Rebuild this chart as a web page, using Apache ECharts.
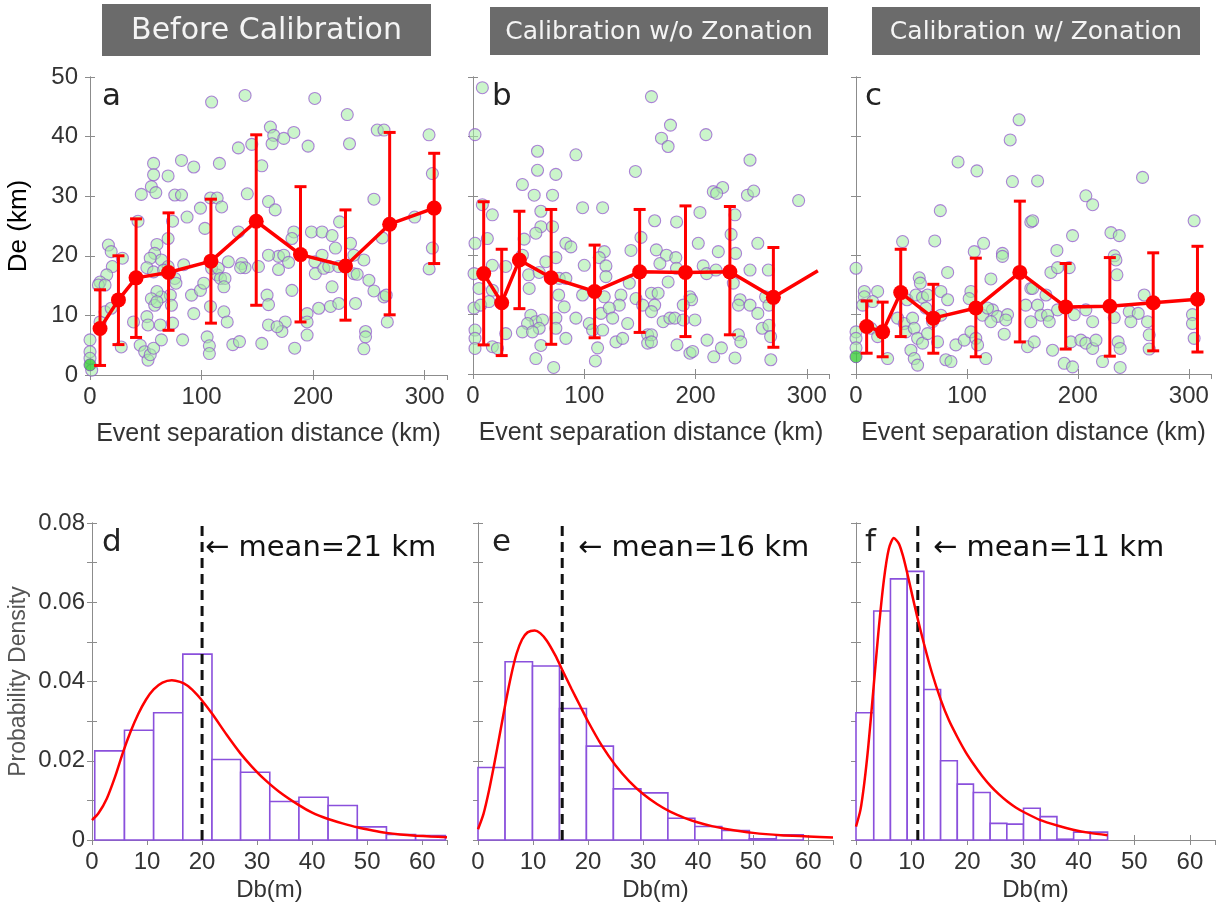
<!DOCTYPE html>
<html><head><meta charset="utf-8">
<script src="https://cdn.jsdelivr.net/npm/echarts@6/dist/echarts.min.js"></script>
<style>html,body{margin:0;padding:0;background:#fff}#c{width:1225px;height:907px}</style>
</head><body><div id="c"></div><script>
// ---------------- DATA ----------------
const panelTitles = ['Before Calibration', 'Calibration w/o Zonation', 'Calibration w/ Zonation'];
const panelLetters = ['a', 'b', 'c', 'd', 'e', 'f'];
const meanLabels = ['mean=21 km', 'mean=16 km', 'mean=11 km'];
const topXTicks = [0, 100, 200, 300];
const topYTicks = [0, 10, 20, 30, 40, 50];
const botXTicks = [0, 10, 20, 30, 40, 50, 60];
const botYTicks = [0, 0.02, 0.04, 0.06, 0.08];

// Panel a scatter (separation distance km, De km)
const scatterA = [[109,45.8],[139,46.9],[133,38.1],[145,38.7],[57,35.5],[57,33.6],[70,33.4],[93,34.9],[116,35.5],[82,36],[55,31.6],[59,30.6],[46,30.3],[76,30.2],[82,30.2],[108,29.7],[114,29.7],[118,28.2],[99,28],[141,30.4],[87,26.5],[103,24.6],[133,24],[74,25.8],[43,25.8],[70,22.9],[16.5,21.8],[19,20.7],[29,19.6],[60,21.9],[58,20.4],[64,19.3],[54,19.6],[51,18],[57,17.3],[70,18.2],[84,18.5],[66,17.6],[20,18.2],[15,16.8],[9,15.6],[7.5,15.1],[13.5,15.1],[76,16.2],[77,15.4],[72,13.4],[64,13.1],[60,14],[55,12.8],[58,11.7],[60,12.3],[73,11.7],[91,13.4],[99,14.2],[102,15.4],[114,16.8],[109,17.9],[115,17.9],[117,16.2],[121,16.2],[120,14.8],[124,19],[136,18.7],[139,18],[135,18],[151,18.2],[93,10.3],[108,11.5],[120,10.6],[123,8.9],[39,8.9],[51,9.8],[52,8.4],[63,8.4],[74,8.7],[13.5,10.6],[19,11.2],[9,8.9],[0,5.9],[0,3.9],[0,2.8],[1.5,0.8],[28,4.7],[45,5],[49,3.9],[52,2.5],[54,3.4],[57,4.5],[64,5.9],[83,5.9],[105,6.4],[107,4.9],[107,3.6],[128,5.1],[134,5.6],[154,5.3],
[201.5,46.4],[230.6,43.7],[161.7,41.6],[164.7,40.2],[163.2,38.8],[173.7,39.7],[182.7,40.7],[195.5,38.4],[232.6,38.8],[257.5,41.1],[263.5,41.1],[303.9,40.3],[306.9,33.8],[154,35.1],[160,29.1],[166,27.7],[254.5,29.5],[291,26.5],[223.7,25.7],[182.7,24],[181,22.9],[198.5,24],[208,24],[217,23.4],[220,21.3],[233.5,22.1],[245.5,19.3],[236.5,20.1],[262,23],[306.9,21.3],[304,17.8],[169,19.9],[173.7,20.1],[178,18.9],[169,17.7],[160,20.1],[201.5,19],[208,20.1],[202,17],[209.6,17.9],[214,18.2],[223,18.2],[236.5,17],[239.5,16.9],[250,15.9],[254.5,14.1],[263.5,13.1],[265.5,13.4],[181,14.2],[158.7,13.4],[160,11.8],[194.6,10.3],[205,11.2],[215.6,11.5],[223,12],[217,14.8],[238,12],[194.6,8.9],[194.6,6.7],[175,8.9],[172,7.3],[160,8.4],[167.7,8.1],[183.5,4.5],[266.5,8.9],[247,7.3],[247,6.4],[245.5,4.4]];
const scatterAHi = [[0,1.7]];
const binXA = [9,25.5,41.3,70.4,108.4,149,188.7,229,268.6,308.5];
const binMeanA = [7.8,12.6,16.3,17.2,19.1,25.8,20.2,18.3,25.3,28];
const binLowA = [1.6,5.1,6.3,7.5,8.7,11.7,8.9,9.2,10.1,18.7];
const binHighA = [14.3,20,26.2,27.2,29.5,40.3,31.6,27.7,40.7,37.2];

// Panel b scatter
const scatterB = [[8.4,48.2],[1.8,40.3],[58,37.5],[92.5,36.9],[58,34.3],[74.5,33.6],[44.4,31.9],[146,34.1],[55,30.1],[71.5,30.1],[98.5,28],[116.5,28],[8.4,28.5],[17.4,26.8],[61,27.4],[61,24.8],[71.5,24.8],[56.5,23.7],[12.9,22.8],[46,22.7],[1.8,22],[83.5,22],[88,21.4],[118,20.6],[142,20.8],[151,23],[113.5,19.6],[74.5,19.6],[44.4,20],[100,18.3],[119.5,18.2],[17.4,18.3],[0.9,16.9],[29.4,18.1],[50,16.7],[59.5,17.1],[50.5,14.4],[77.5,16.1],[83.5,16.1],[119.5,16.4],[140.5,15.3],[5.4,14.4],[17.4,14.1],[77,13.3],[98.5,13.3],[118,13],[133,13.3],[131.5,11.6],[146.5,12.7],[152.5,11.6],[0.9,11.1],[6.9,11.6],[14.4,12.2],[82,11.3],[92.5,9.4],[52,9.9],[56.5,8.8],[49,8.5],[62.5,9.1],[59.5,7.7],[44.4,7.1],[53.5,7.1],[74.5,9.4],[74.5,7.7],[104.5,8.5],[107.5,7.4],[115,10.2],[122.5,11.1],[125.5,9.4],[139,8.5],[116.5,7.4],[83.5,6],[128.5,5.4],[134.5,6],[157,6.6],[157,5.2],[1.8,7.4],[1.8,6],[1.8,4.3],[17.4,4.6],[22,4.3],[29.4,6.8],[61,4.8],[56.5,2.6],[72.5,1.1],[110,2.2],[112,4.4],[65.5,18.9],
[160.4,46.7],[177.5,41.9],[169.4,39.7],[175.4,38.3],[209.4,40.3],[249,36],[216,30.7],[224.4,31.4],[219,30.4],[246.7,30.1],[252.3,30.8],[292.7,29.2],[204,27.2],[163.3,25.8],[183,25.6],[235.5,26.8],[232,23.5],[202.5,22],[220.5,20.6],[236,20.3],[256,22],[164.8,20.9],[173.9,20],[168,18.6],[182.3,19.6],[182.9,17.8],[206.9,18.2],[210,16.9],[218.4,17.5],[249,17.5],[265.5,17.5],[234,15.3],[160.4,13.6],[166.4,13.6],[163.3,11.6],[160.4,10.5],[175.4,15.5],[195,13],[196.5,12.5],[189,11.6],[240.1,12.5],[238.6,11.6],[249,11.6],[256,10.2],[263,13],[266,11.6],[170.9,8.8],[177,9.4],[181.4,9.4],[189,9.1],[199.5,9.1],[160.4,6.6],[160.4,5.4],[260,7.7],[266,8.2],[267.5,6.3],[238.6,6.6],[240.7,5.4],[183.4,4.9],[195,3.5],[197.4,3.8],[210.4,5.7],[216.4,2.9],[223.3,4.4],[235.5,2.7],[267.7,2.4]];
const binXB = [9.6,25.8,41.7,70.3,109.3,149.8,191,230.9,270,310];
const binMeanB = [16.9,12,19.2,16.2,13.9,17.2,17.1,17.2,12.9,17.4];
const binLowB = [4.9,3.1,11,5,6.1,7,6.3,6.6,4.5];
const binHighB = [29,21,27.4,27.7,21.7,27.7,28.3,28.2,21.3];

// Panel c scatter
const scatterC = [[147,42.8],[139,39.4],[92,35.7],[109,34.2],[141,32.4],[76,27.5],[157.6,25.6],[42,22.3],[71,22.4],[106.6,20.6],[115,22],[132,20.3],[132,19.8],[0,17.8],[82.6,17.1],[57,16.2],[58,15.3],[121.6,16],[157.6,14.4],[7.5,13.9],[19.5,13.9],[7.5,13],[15,12.2],[6,11.6],[46,12.5],[54,13.3],[60,12.9],[64.5,13.3],[76.5,13.9],[82.6,12.5],[103.6,13.9],[102,12.7],[123,10.8],[127.6,9.7],[136.6,10],[135,9.1],[133.6,6.7],[153,11.6],[157.6,8.8],[154.6,4.6],[0,7.1],[0,6],[0,4.4],[13.5,7.7],[19.5,6.3],[28.5,2.6],[37.5,9.4],[43.5,8.5],[45,7.1],[51,9.4],[52.5,7.7],[55.5,6],[49.5,4],[52.5,2.6],[55.5,1.5],[60,5.2],[64.5,6.8],[69,8.8],[76.5,9.9],[73.5,5.4],[63,11.1],[81,2.4],[85.6,2.1],[90,4.9],[97.6,5.7],[103.6,7.1],[108,6],[109.6,4.9],[117,2.6],[114,9.9],[121.6,8.8],[118.6,11.1],
[163.7,32.5],[258.3,33.1],[207.2,30],[213.3,28.5],[159.2,25.8],[304.8,25.8],[195.2,23.3],[229.8,23.8],[237.3,23.3],[181.1,20.8],[232.8,19.9],[234.3,19.2],[175.7,17.1],[181.7,17.9],[192.2,17.9],[235.2,16.7],[159.2,14.4],[171.2,13.3],[259.8,13.3],[163.7,11.6],[166.7,9.9],[172.7,9.9],[174.2,8.8],[181.7,10.8],[196.7,10],[207.2,10.8],[213.3,8.8],[232.8,9.5],[246.3,10.5],[254.4,10.2],[247.8,8.8],[262.8,8.8],[264.3,6.6],[303.3,10],[303.3,8.5],[304.8,6],[160.7,5.4],[177.2,4],[193.7,5.4],[202.7,5.7],[207.2,5.2],[213.3,4.3],[216.3,5.7],[236.3,5.4],[238.1,4.3],[264.3,4.2],[187.7,1.8],[195.2,1.2],[222.2,2.1],[238.1,1.1]];
const scatterCHi = [[0,2.9]];
const binXC = [9.6,24,40.3,69.7,108,147.7,189,228.8,267.9,307.8];
const binMeanC = [8,7.1,13.7,9.4,11.1,17.1,11.3,11.4,12,12.6];
const binLowC = [3.5,2.9,6.3,3.5,2.9,5.4,4.2,3,3.9,3.7];
const binHighC = [12.3,12.1,21,15.1,19.5,29.1,18.6,19.6,20.4,21.5];

// Histograms (bin edges, densities)
const histEdgesD = [0.5,5.9,11.2,16.5,21.8,27.0,32.3,37.6,42.9,48.2,53.5,58.8,64.2];
const histDensD = [0.0225,0.0277,0.0321,0.0469,0.0203,0.0171,0.0097,0.0108,0.0087,0.0033,0.0014,0.0011];
const histEdgesE = [0,4.92,9.9,14.8,19.7,24.6,29.6,34.5,39.4,44.3,49.3,54.2,59.1];
const histDensE = [0.0183,0.045,0.0439,0.0332,0.0237,0.0129,0.0119,0.0055,0.0034,0.0024,0.0003,0.0013];
const histEdgesF = [0,3.19,6.19,9.2,12.2,15.2,18.2,21.1,24.1,27.1,30.1,33.1,36.1,39.1,42.1,45.2];
const histDensF = [0.0321,0.0578,0.0659,0.0678,0.038,0.02,0.0141,0.012,0.0042,0.004,0.008,0.0059,0.0002,0.002,0.002];

// Fitted density curves
const curveD = [[0,0.005],[1.2,0.0068],[2.7,0.0105],[4.2,0.016],[5.6,0.022],[7,0.0273],[8.4,0.0318],[9.8,0.0354],[11.2,0.038],[12.8,0.0397],[14.5,0.0403],[16,0.0399],[17.3,0.039],[18.6,0.0374],[19.7,0.0357],[21.8,0.0319],[24.5,0.0265],[27,0.0218],[29,0.0186],[31.2,0.0155],[34,0.0122],[37.6,0.0088],[40,0.0069],[42.9,0.0053],[45.5,0.0042],[48.2,0.0032],[51,0.0024],[53.5,0.0018],[56,0.0014],[58.8,0.0011],[61.5,0.0009],[64.5,0.0007]];
const curveE = [[0,0.0027],[1,0.0066],[2,0.0125],[3,0.0195],[4,0.027],[5,0.0345],[6,0.0414],[7,0.047],[8,0.0506],[9,0.0524],[10.3,0.0529],[11.3,0.0522],[12.5,0.0503],[14,0.0467],[15.5,0.0424],[17,0.0381],[18.5,0.034],[20,0.0299],[22.5,0.0238],[25,0.0188],[27.5,0.0148],[30,0.0116],[32.5,0.0091],[35,0.0071],[37.5,0.0056],[40,0.0044],[42.5,0.0035],[45,0.0028],[50,0.0018],[55,0.0012],[60,0.0009],[64.5,0.0006]];
const curveF = [[0,0.0034],[0.8,0.0076],[1.5,0.0145],[2.2,0.0235],[3,0.036],[4,0.052],[5,0.0655],[5.9,0.0735],[6.8,0.0762],[7.7,0.0748],[8.5,0.0714],[9.2,0.0674],[10.1,0.0618],[11,0.0563],[12.2,0.0496],[13.6,0.0424],[15.2,0.0355],[16.7,0.0302],[18.2,0.026],[19.7,0.0222],[21.2,0.019],[22.7,0.0161],[24.2,0.0136],[25.7,0.0115],[27.2,0.0097],[28.7,0.0082],[30.2,0.007],[33,0.0051],[36.3,0.0036],[39,0.0026],[42,0.0018],[45.2,0.0012]];
const meanValues = [20, 15.3, 11.1];

// ---------------- CHART ----------------
const FONT = 'Liberation Sans';
const DJ = 'DejaVu Sans';
const frame = '#8c8c8c';
const grids = [
  {left:90, top:77, width:357, height:298},
  {left:473, top:77, width:356, height:297},
  {left:856, top:77, width:355, height:297},
  {left:92, top:523, width:355, height:317},
  {left:478, top:523, width:355, height:317},
  {left:856, top:523, width:359, height:317}
];
const xAxes = [], yAxes = [], series = [];
for (let i = 0; i < 6; i++) {
  const top = i < 3;
  const xmax = top ? 320 : 64.5, ymax = top ? 50 : 0.08;
  const xint = top ? 100 : 10, yint = top ? 10 : 0.01;
  const tick = {inside:true, length:5, lineStyle:{color:frame}};
  const line = {show:true, lineStyle:{color:frame, width:1}};
  const xTicks = top ? topXTicks : botXTicks;
  const yTicks = top ? topYTicks : botYTicks;
  xAxes.push({type:'value', gridIndex:i, position:'bottom', min:0, max:xmax, interval:xint,
    axisLine:line, axisTick:tick, splitLine:{show:false},
    axisLabel:{color:'#333', fontSize:24, fontFamily:FONT, margin:10, showMaxLabel:false,
      formatter: v => xTicks.some(t => Math.abs(t - v) < 1e-6) ? String(v) : ''},
    name: top ? 'Event separation distance (km)' : 'Db(m)', nameLocation:'middle', nameGap: top ? 47 : 38,
    nameTextStyle:{color:'#333', fontSize: top ? 25 : 24, fontFamily:FONT}});
  xAxes.push({type:'value', gridIndex:i, position:'top', min:0, max:xmax, interval:xint,
    axisLine:line, axisTick:tick, splitLine:{show:false}, axisLabel:{show:false}});
  const showY = (i === 0 || i === 3);
  yAxes.push({type:'value', gridIndex:i, position:'left', min:0, max:ymax, interval:yint,
    axisLine:line, axisTick:tick, splitLine:{show:false},
    axisLabel:{show:showY, color:'#333', fontSize:24, fontFamily:FONT, margin: top ? 12 : 7, showMaxLabel:true,
      formatter: v => { const hit = yTicks.some(t => Math.abs(t - v) < 1e-9); if (!hit) return ''; return top ? String(v) : (v === 0 ? '0' : v.toFixed(2)); }},
    name: i === 0 ? 'De (km)' : (i === 3 ? 'Probability Density' : ''), nameLocation:'middle', nameGap: i === 0 ? 58 : 62,
    nameTextStyle: i === 0 ? {color:'#000', fontSize:26, fontFamily:FONT} : {color:'#555', fontSize:23, fontFamily:FONT}});
  yAxes.push({type:'value', gridIndex:i, position:'right', min:0, max:ymax, interval:yint,
    axisLine:line, axisTick:tick, splitLine:{show:false}, axisLabel:{show:false}});
}

const scatterStyle = {color:'rgba(165,238,165,0.72)', borderColor:'rgba(145,85,205,0.9)', borderWidth:1.1};
function errRender(params, api) {
  const x = api.value(0), lo = api.value(1), hi = api.value(2);
  const a = api.coord([x, lo]), b = api.coord([x, hi]);
  const w = 6, st = {stroke:'#ff0000', lineWidth:3};
  return {type:'group', children:[
    {type:'line', shape:{x1:a[0], y1:a[1], x2:b[0], y2:b[1]}, style:st},
    {type:'line', shape:{x1:a[0]-w, y1:a[1], x2:a[0]+w, y2:a[1]}, style:st},
    {type:'line', shape:{x1:b[0]-w, y1:b[1], x2:b[0]+w, y2:b[1]}, style:st}
  ]};
}
const topSets = [
  {sc:scatterA, hi:scatterAHi, bx:binXA, bm:binMeanA, bl:binLowA, bh:binHighA},
  {sc:scatterB, hi:[], bx:binXB, bm:binMeanB, bl:binLowB, bh:binHighB},
  {sc:scatterC, hi:scatterCHi, bx:binXC, bm:binMeanC, bl:binLowC, bh:binHighC}
];
topSets.forEach((s, i) => {
  series.push({type:'scatter', xAxisIndex:2*i, yAxisIndex:2*i, data:s.sc, symbolSize:12, itemStyle:scatterStyle, z:2, silent:true});
  if (s.hi.length) series.push({type:'scatter', xAxisIndex:2*i, yAxisIndex:2*i, data:s.hi, symbolSize:12, itemStyle:{color:'#3ccc3c', borderColor:'#7a50b0', borderWidth:1}, z:2, silent:true});
  series.push({type:'custom', xAxisIndex:2*i, yAxisIndex:2*i, renderItem:errRender, z:3, silent:true,
    encode:{x:0, y:[1,2]}, data:s.bl.map((l, k) => [s.bx[k], l, s.bh[k]])});
  series.push({type:'line', xAxisIndex:2*i, yAxisIndex:2*i, z:4, silent:true,
    data:s.bx.map((x, k) => k < s.bl.length ? [x, s.bm[k]] : {value:[x, s.bm[k]], symbol:'none'}),
    symbol:'circle', symbolSize:15, lineStyle:{color:'#ff0000', width:3.5}, itemStyle:{color:'#ff0000'}});
});

function histRender(params, api) {
  const x0 = api.value(0), x1 = api.value(1), h = api.value(2);
  const p0 = api.coord([x0, h]), p1 = api.coord([x1, 0]);
  return {type:'rect', shape:{x:p0[0], y:p0[1], width:p1[0]-p0[0], height:p1[1]-p0[1]},
    style:{fill:'#ffffff', stroke:'#8a50dc', lineWidth:1.6}};
}
const botSets = [
  {e:histEdgesD, d:histDensD, c:curveD},
  {e:histEdgesE, d:histDensE, c:curveE},
  {e:histEdgesF, d:histDensF, c:curveF}
];
botSets.forEach((s, j) => {
  const i = j + 3;
  series.push({type:'custom', xAxisIndex:2*i, yAxisIndex:2*i, renderItem:histRender, z:2, silent:true,
    encode:{x:[0,1], y:2}, data:s.d.map((h, k) => [s.e[k], s.e[k+1], h])});
  series.push({type:'line', xAxisIndex:2*i, yAxisIndex:2*i, z:3, silent:true, symbol:'none',
    data:[[meanValues[j], 0], [meanValues[j], 0.08]], lineStyle:{color:'#111', width:3, type:[10,6]}});
  series.push({type:'line', xAxisIndex:2*i, yAxisIndex:2*i, z:4, silent:true, symbol:'none', smooth:0.25,
    data:s.c, lineStyle:{color:'#ff0000', width:2.5}});
});

const graphics = [];
const titleBoxes = [
  {x:102, y:4, w:329, h:52, fs:30},
  {x:490, y:7, w:338, h:48, fs:25},
  {x:872, y:7, w:328, h:48, fs:25}
];
titleBoxes.forEach((b, k) => {
  graphics.push({type:'rect', shape:{x:b.x, y:b.y, width:b.w, height:b.h}, style:{fill:'#6b6b6b'}, z:10});
  graphics.push({type:'text', x:b.x + b.w/2, y:b.y + b.h/2 + 1, z:11,
    style:{text:panelTitles[k], fill:'#f4f4f4', font:b.fs + 'px "' + DJ + '"', align:'center', verticalAlign:'middle', textAlign:'center', textVerticalAlign:'middle'}});
});
const letterPos = [[102,97],[492,97],[865,97],[102,543],[492,543],[865,543]];
letterPos.forEach((p, k) => {
  graphics.push({type:'text', x:p[0], y:p[1], z:11,
    style:{text:panelLetters[k], fill:'#222', font:'31px "' + DJ + '"', align:'left', verticalAlign:'middle', textAlign:'left', textVerticalAlign:'middle'}});
});
const annPos = [[205,548],[578,548],[933,548]];
annPos.forEach((p, k) => {
  graphics.push({type:'text', x:p[0], y:p[1], z:11,
    style:{text:'\u2190 ' + meanLabels[k], fill:'#111', font:'29px "' + DJ + '"', align:'left', verticalAlign:'middle', textAlign:'left', textVerticalAlign:'middle'}});
});

const chart = echarts.init(document.getElementById('c'));
chart.setOption({
  animation:false, backgroundColor:'#ffffff',
  textStyle:{fontFamily:FONT},
  grid:grids, xAxis:xAxes, yAxis:yAxes, series:series, graphic:graphics
});
</script></body></html>
